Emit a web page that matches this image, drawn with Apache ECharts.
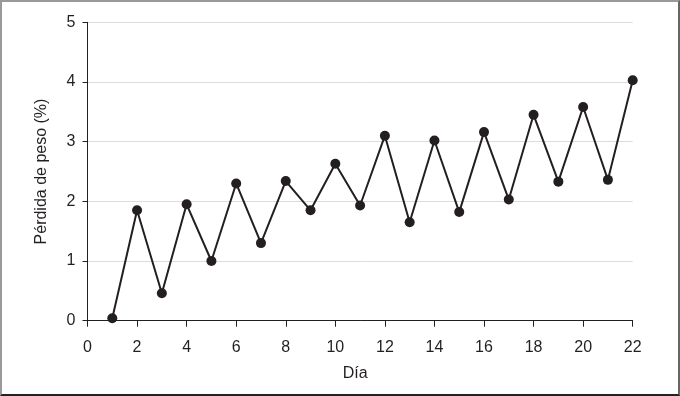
<!DOCTYPE html>
<html>
<head>
<meta charset="utf-8">
<script src="https://cdn.jsdelivr.net/npm/echarts@6/dist/echarts.min.js"></script>
<style>
html,body{margin:0;padding:0;background:#fff;}
#frame{position:absolute;left:0;top:0;width:680px;height:396px;box-sizing:border-box;
border-top:2px solid #999;border-left:2px solid #999;border-right:2px solid #666;border-bottom:2px solid #222;}
#chart{position:absolute;left:0;top:0;width:680px;height:396px;}
</style>
</head>
<body>
<div id="chart"></div>
<div id="frame"></div>
<script>
const days = [1,2,3,4,5,6,7,8,9,10,11,12,13,14,15,16,17,18,19,20,21,22];
const weightLoss = [0.04,1.85,0.46,1.95,1.00,2.30,1.30,2.34,1.85,2.63,1.93,3.10,1.65,3.02,1.82,3.16,2.03,3.45,2.33,3.58,2.36,4.03];
const xTitle = 'Día';
const yTitle = 'Pérdida de peso (%)';

const font = '"Liberation Sans", Arial, Helvetica, sans-serif';
const chart = echarts.init(document.getElementById('chart'), null, {renderer:'canvas'});
chart.setOption({
  animation:false,
  backgroundColor:'#fff',
  grid:{left:87.5, right:47.3, top:22.3, bottom:75.3, containLabel:false},
  xAxis:{
    type:'value', min:0, max:22, interval:2,
    name:xTitle, nameLocation:'middle', nameGap:45,
    nameTextStyle:{color:'#231f20', fontSize:16, fontFamily:font, padding:[0,10,0,0]},
    axisLine:{show:true, onZero:false, lineStyle:{color:'#231f20', width:1}},
    axisTick:{show:true, length:6, lineStyle:{color:'#231f20'}},
    axisLabel:{color:'#231f20', fontSize:16, fontFamily:font, margin:19},
    splitLine:{show:false}
  },
  yAxis:{
    type:'value', min:0, max:5, interval:1,
    name:yTitle, nameLocation:'middle', nameGap:38, nameRotate:90,
    nameTextStyle:{color:'#231f20', fontSize:16, fontFamily:font},
    axisLine:{show:true, lineStyle:{color:'#231f20', width:1}},
    axisTick:{show:true, length:5, lineStyle:{color:'#231f20'}},
    axisLabel:{color:'#231f20', fontSize:16, fontFamily:font, margin:12},
    splitLine:{show:true, lineStyle:{color:'#dcdcdc', width:1}}
  },
  series:[{
    type:'line',
    data:days.map((d,i)=>[d, weightLoss[i]]),
    symbol:'circle', symbolSize:10,
    lineStyle:{color:'#231f20', width:2},
    itemStyle:{color:'#231f20'},
    z:5
  }]
});
</script>
</body>
</html>
